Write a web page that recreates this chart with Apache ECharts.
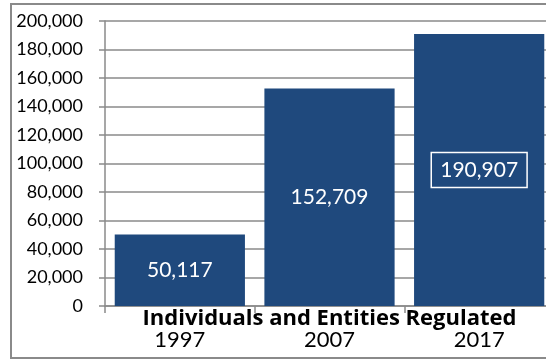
<!DOCTYPE html>
<html>
<head>
<meta charset="utf-8">
<script src="https://cdn.jsdelivr.net/npm/echarts@6/dist/echarts.min.js"></script>
<style>
  html, body { margin: 0; padding: 0; background: #fff; }
  #chart { width: 546px; height: 360px; }
</style>
</head>
<body>
<div id="chart"></div>
<script>
const years = ["1997", "2007", "2017"];
const regulated = [50117, 152709, 190907];
const yTicks = [0, 20000, 40000, 60000, 80000, 100000, 120000, 140000, 160000, 180000, 200000];

const chart = echarts.init(document.getElementById("chart"));

const gray = "#8a8a8a";
const barBlue = "#1F497D";
const font = "Lato";

function formatAmount(n) {
    return Number(n).toLocaleString("en-US");
}

const barData = regulated.map((v, i) => {
    const item = { value: v };
    // the last bar's label is boxed in the original
    if (i === regulated.length - 1) {
        item.label = {
            borderColor: "#fff",
            borderWidth: 1.5,
            padding: [7, 9, 7, 9]
        };
    }
    return item;
});

const option = {
    animation: false,
    textStyle: { fontFamily: font },
    graphic: [
        {
            type: "rect",
            shape: { x: 11, y: 4, width: 560, height: 354 },
            style: { fill: "none", stroke: gray, lineWidth: 2 },
            silent: true,
            z: -1
        }
    ],
    grid: {
        left: 105,
        right: -8,
        top: 21,
        bottom: 54,
        outerBoundsMode: "none",
        containLabel: false
    },
    xAxis: {
        type: "category",
        data: years,
        name: "Individuals and Entities Regulated",
        nameLocation: "middle",
        nameGap: 2,
        nameMoveOverlap: false,
        nameTextStyle: {
            color: "#000",
            fontSize: 22,
            fontWeight: "bold",
            fontFamily: "Open Sans"
        },
        axisLine: { lineStyle: { color: gray, width: 1.5 } },
        axisTick: { show: true, length: 7, lineStyle: { color: gray, width: 1.5 } },
        axisLabel: {
            color: "#000",
            fontSize: 22,
            margin: 23,
            fontFamily: font
        }
    },
    yAxis: {
        type: "value",
        min: yTicks[0],
        max: yTicks[yTicks.length - 1],
        interval: yTicks[1] - yTicks[0],
        axisLine: { show: true, lineStyle: { color: gray, width: 1.5 } },
        axisTick: { show: true, length: 6, lineStyle: { color: gray, width: 1.5 } },
        splitLine: { show: true, lineStyle: { color: gray, width: 1.5 } },
        axisLabel: {
            color: "#000",
            fontSize: 18,
            margin: 22,
            fontFamily: font,
            formatter: formatAmount
        }
    },
    series: [
        {
            name: "Individuals and Entities Regulated",
            type: "bar",
            data: barData,
            barCategoryGap: "13%",
            itemStyle: { color: barBlue },
            label: {
                show: true,
                position: "inside",
                color: "#fff",
                fontSize: 21,
                fontFamily: font,
                formatter: p => formatAmount(p.value)
            }
        }
    ]
};

chart.setOption(option);
window.addEventListener("resize", () => chart.resize());
</script>
</body>
</html>
